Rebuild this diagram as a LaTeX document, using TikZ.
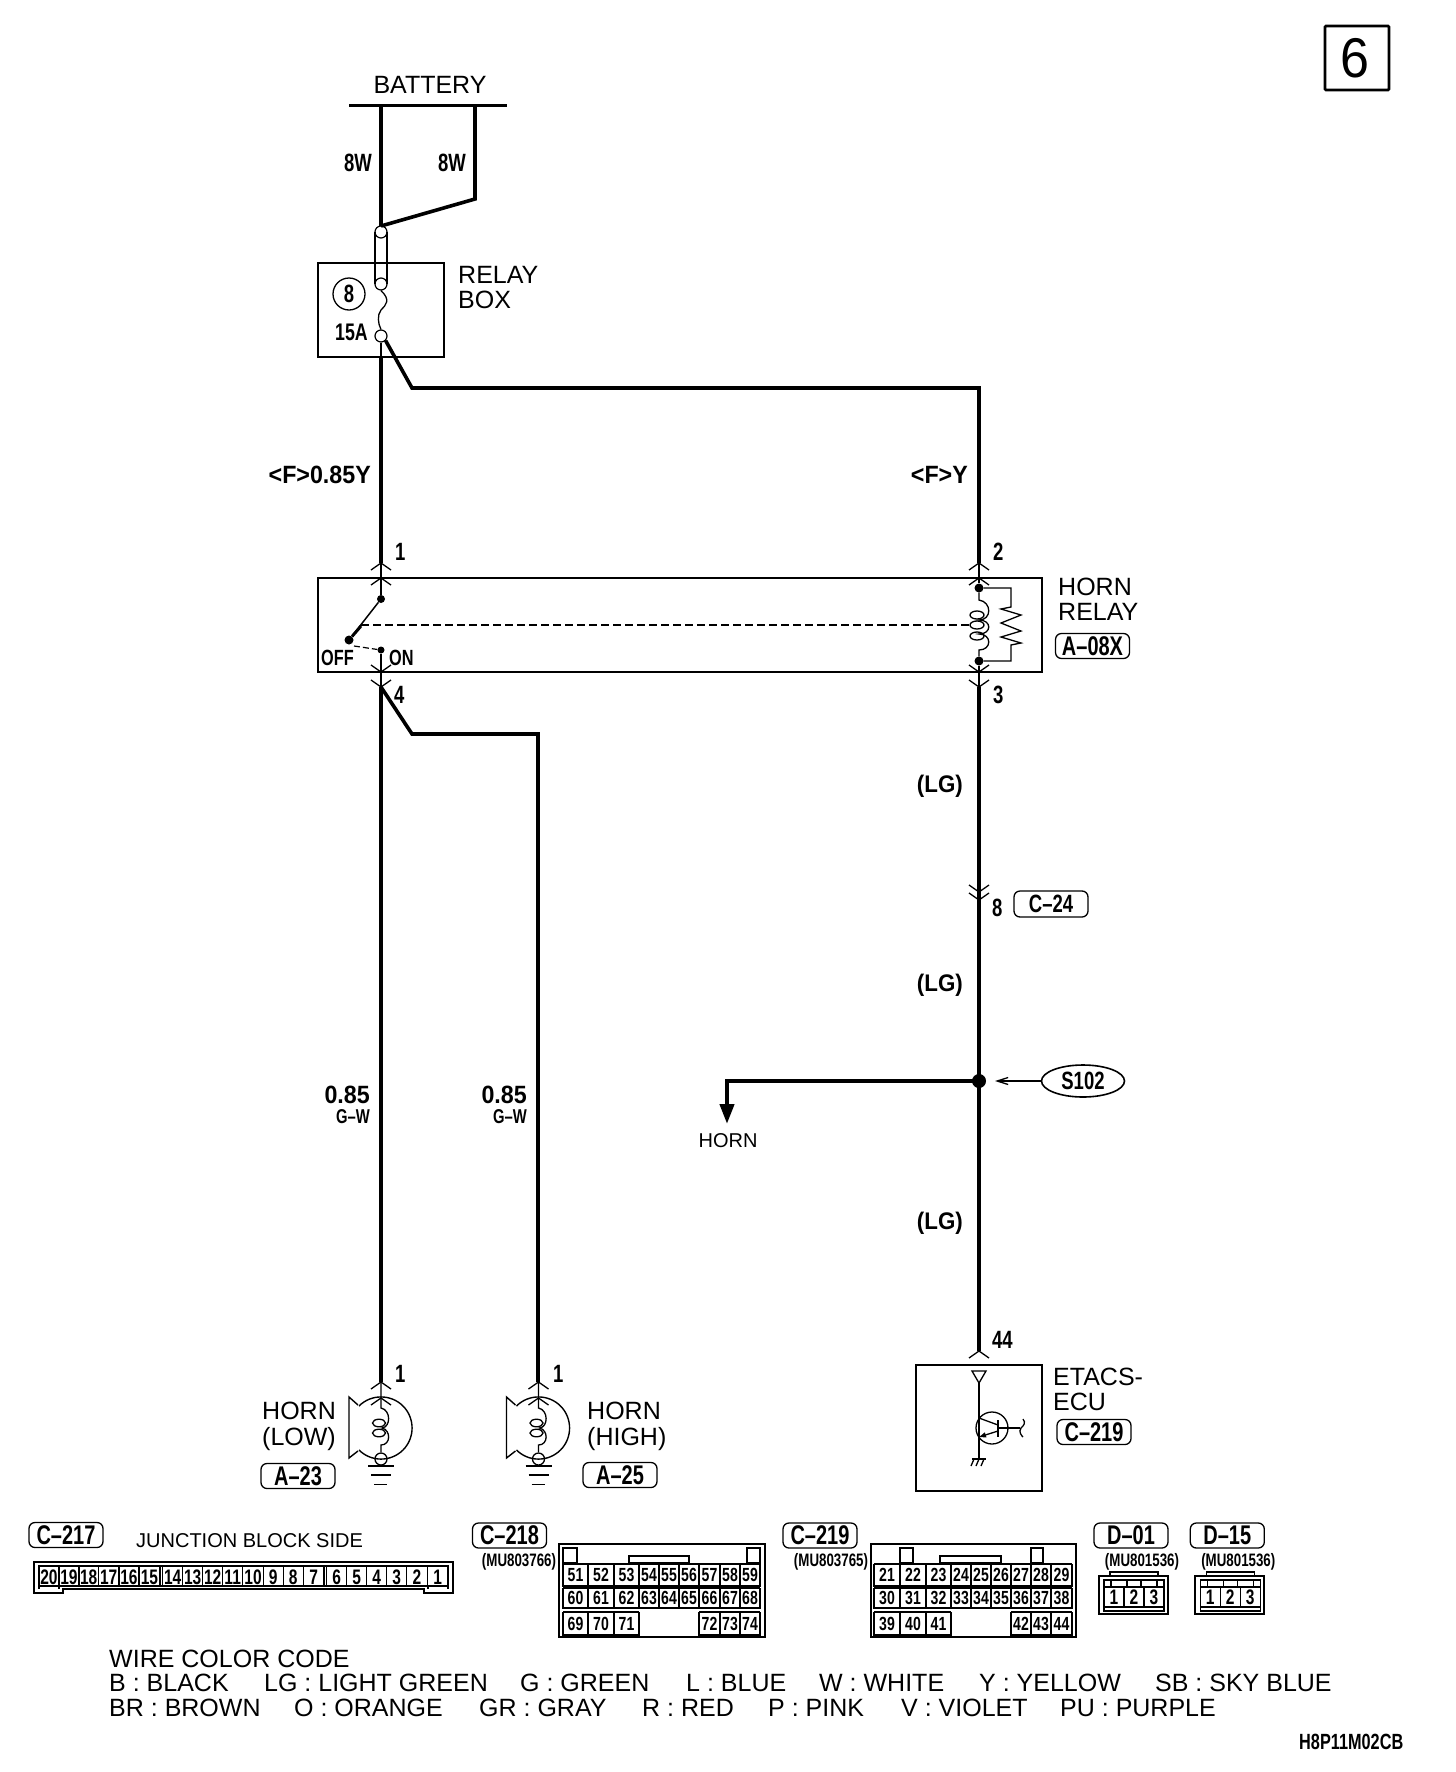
\documentclass[tikz,border=0pt]{standalone}
\usepackage{fontspec}
\setmainfont{Liberation Sans}
\newfontfamily\nar{Liberation Sans}[FakeStretch=0.74]
\newfontfamily\narw{Liberation Sans}[FakeStretch=0.93]
\usetikzlibrary{arrows.meta,shapes.geometric}
\newcommand\fs[1]{\fontsize{#1}{#1}\selectfont}
\newcommand\chU[2]{\draw[thin1] (#1-10,#2+7) -- (#1,#2) -- (#1+10,#2+7);}
\newcommand\chD[2]{\draw[thin1] (#1-10,#2-7) -- (#1,#2) -- (#1+10,#2-7);}
\newcommand\conncell[5]{% x0 x1 y0 y1 text
  \draw[cellb] (#1,#3) -- (#1,#4) -- (#2,#4) -- (#2,#3);
  \draw[cellt] (#1,#3) -- (#2,#3);
  \node[cellnum] at ({(#1+#2)/2},{(#3+#4)/2}) {#5};}
\tikzset{
  wire/.style={line width=4.2pt,line join=miter},
  wiret/.style={line width=3.6pt,line join=miter},
  thin1/.style={line width=1.3pt},
  box/.style={line width=1.8pt},
  dotn/.style={circle,fill=black,inner sep=0,minimum size=#1},
  tx/.style={inner sep=0,anchor=base west,font=\fs{25}},
  lab/.style={inner sep=0,anchor=base west,font=\nar\bfseries\fs{25}},
  labw/.style={inner sep=0,anchor=base east,font=\narw\bfseries\fs{25}},
  tag/.style={draw,rounded corners=6pt,line width=1.3pt,inner sep=0,minimum width=74pt,minimum height=25pt,font=\nar\bfseries\fs{27}},
  cellb/.style={line width=1.2pt},
  cellt/.style={line width=2.4pt},
  cellnum/.style={inner sep=0,font=\nar\bfseries\fs{19}},
  cnum/.style={inner sep=0,font=\nar\bfseries\fs{21}},
  partno/.style={inner sep=0,font=\nar\bfseries\fs{18}}
}
\begin{document}
\begin{tikzpicture}[x=1pt,y=-1pt]
\useasboundingbox (0,0) rectangle (1456,1772);
% page tag
\draw[line width=2.6pt,rounded corners=1pt] (1325,26) rectangle (1389,90);
\node[inner sep=0,font=\narw\fs{56}] (pg) at (1355,58) {6};
% battery
\node[tx,anchor=base] (bat) at (430,93) {BATTERY};
\coordinate (busL) at (349,105); \coordinate (busR) at (507,105);
\draw[line width=3pt] (busL) -- (busR);
\coordinate (w1) at (381,105); \coordinate (w2) at (475,105);
\coordinate (wj) at (381,226); \coordinate (w2b) at (475,199);
\draw[wire] (w1) -- (wj);
\draw[wiret] (w2) -- (w2b) -- (wj);
\node[lab] (l8a) at (344,171) {8W};
\node[lab] (l8b) at (438,171) {8W};
% relay box
\draw[box] (318,263) rectangle (444,357);
\node[tx] (rb1) at (458,283) {RELAY};
\node[tx] (rb2) at (458,308) {BOX};
\node[draw,circle,line width=1.3pt,minimum size=32pt,inner sep=0,font=\nar\bfseries\fs{25}] (f8) at (349,294) {8};
\node[lab,font=\nar\bfseries\fs{24}] (f15) at (335,340) {15A};
\node[draw,circle,line width=1.2pt,minimum size=12pt,inner sep=0] (fa) at (381,232) {};
\node[draw,circle,line width=1.2pt,minimum size=12pt,inner sep=0] (fb) at (381,284) {};
\node[draw,circle,line width=1.2pt,minimum size=12pt,inner sep=0] (fc) at (381,336) {};
\draw[thin1] (375,232) -- (375,284) (387,232) -- (387,284);
\draw[thin1] (fb.south) .. controls (391,300) and (386,305) .. (381,310) .. controls (377,315) and (378,324) .. (fc.north);
\coordinate (rbOut) at (381,357);
\coordinate (br1) at (412,388); \coordinate (br2) at (979,388);
\coordinate (rT1) at (381,563); \coordinate (rT2) at (979,563);
\draw[thin1] (fc.south) -- (rbOut);
\draw[wire] (rbOut) -- (rT1);
\draw[wiret] (fc.south east) -- (br1) -- (br2) -- (rT2);
\node[labw] (fw1) at (371,483) {<F>0.85Y};
\node[labw] (fw2) at (968,483) {<F>Y};
% horn relay
\draw[box] (318,578) rectangle (1042,672);
\node[lab] (p1) at (395,560) {1};
\node[lab] (p2) at (993,560) {2};
\node[lab] (p4) at (394,703) {4};
\node[lab] (p3) at (993,703) {3};
\chU{381}{563} \chU{381}{578} \chU{979}{563} \chU{979}{578}
\chD{381}{672} \chD{381}{687} \chD{979}{672} \chD{979}{687}
\node[dotn=8pt] (sa) at (381,599) {};
\node[dotn=9pt] (sb) at (349,640) {};
\node[dotn=7pt] (sc) at (381,650) {};
\draw[thin1] (rT1) -- (sa);
\draw[line width=1.5pt] (sa) -- (sb);
\draw[line width=3pt] (sb) -- (361,626);
\draw[line width=1.2pt,dash pattern=on 6pt off 3pt] (354,646) -- (sc);
\draw[thin1] (sc) -- (381,672) -- (381,687);
\node[inner sep=0,anchor=base west,font=\nar\bfseries\fs{22}] (off) at (321,665) {OFF};
\node[inner sep=0,anchor=base west,font=\nar\bfseries\fs{22}] (on) at (389,665) {ON};
\coordinate (dsh) at (361,625); \coordinate (dshe) at (970,625);
\draw[line width=1.4pt,dash pattern=on 8pt off 4pt] (dsh) -- (dshe);
% coil
\node[dotn=9pt] (ca) at (979,588) {};
\node[dotn=9pt] (cb) at (979,661) {};
\draw[thin1] (rT2) -- (ca);
\draw[thin1] (cb) -- (979,672) -- (979,687);
\draw[thin1] (ca) -- (979,600) .. controls (992,602) and (992,620) .. (979,620) .. controls (992,620) and (992,634) .. (979,634) .. controls (992,634) and (992,650) .. (979,650) -- (cb);
\foreach \yy in {615,625,636} \draw[thin1] (977,\yy) ellipse [x radius=7,y radius=4];
\draw[thin1] (ca) -- (1011,588) -- (1011,607) -- (1001,609) -- (1021,615) -- (1001,623) -- (1021,631) -- (1001,637) -- (1021,643) -- (1011,645) -- (1011,661) -- (cb);
\node[tx] (hr1) at (1058,595) {HORN};
\node[tx] (hr2) at (1058,620) {RELAY};
\node[tag] (a08) at (1092.5,646) {A–08X};
% lower wires
\coordinate (low4) at (381,687); \coordinate (hornL) at (381,1382);
\coordinate (b1) at (412,734); \coordinate (b2) at (538,734); \coordinate (hornH) at (538,1382);
\draw[wire] (low4) -- (hornL);
\draw[wiret] (low4) -- (b1) -- (b2) -- (hornH);
\node[labw] at (370,1103) (v1) {0.85};
\node[labw] at (527,1103) (v2) {0.85};
\node[inner sep=0,anchor=base east,font=\nar\bfseries\fs{20}] (g1) at (370,1123) {G–W};
\node[inner sep=0,anchor=base east,font=\nar\bfseries\fs{20}] (g2) at (527,1123) {G–W};
% right wire
\coordinate (r3) at (979,687); \coordinate (r44) at (979,1351);
\draw[wire] (r3) -- (r44);
\node[dotn=14pt] (spl) at (979,1081) {};
\chD{979}{892} \chD{979}{900}
\node[lab] (p8) at (992,916) {8};
\node[tag,font=\nar\bfseries\fs{25},minimum height=26pt] (c24) at (1051,904) {C–24};
\foreach \yy/\nn in {792/la,991/lb,1229/lc} \node[inner sep=0,anchor=base east,font=\narw\bfseries\fs{24}] (\nn) at (963,\yy) {(LG)};
\coordinate (hrn1) at (727,1081); \coordinate (hrn2) at (727,1124);
\draw[wire,-{Triangle[length=20pt,width=14pt]}] (spl.center) -- (hrn1) -- (hrn2);
\node[tx,anchor=base,font=\fs{20}] (hrnt) at (728,1147) {HORN};
\node[draw,ellipse,line width=1.6pt,minimum width=83pt,minimum height=32pt,inner sep=0,font=\nar\bfseries\fs{25}] (s102) at (1083,1081) {S102};
\coordinate (s102t) at (995,1081);
\draw[thin1,-{Straight Barb[length=11pt,width=7pt]}] (s102) -- (s102t);
% horns
\foreach \dx/\nm in {0/a,157.5/b}{
\begin{scope}[xshift=\dx pt]
\chU{381}{1382} \chU{381}{1398}
\node[draw,circle,line width=1.3pt,minimum size=12pt,inner sep=0] (hg\nm) at (381,1459) {};
\draw[line width=1.4pt] (358,1405) -- (349,1397) -- (349,1458) -- (358,1451);
\draw[line width=1.4pt] (359,1406) .. controls (371.1,1393.9) and (390.9,1393.9) .. (403,1406) .. controls (415.1,1418.1) and (415.1,1437.9) .. (403,1450) .. controls (390.9,1462.1) and (371.1,1462.1) .. (359,1450);
\draw[thin1] (381,1382) -- (381,1408) .. controls (391,1410) and (391,1427) .. (382,1428) .. controls (391,1430) and (391,1445) .. (381,1445) -- (hg\nm.north);
\foreach \yy in {1423,1433} \draw[thin1] (379,\yy) ellipse [x radius=6.5,y radius=3.8];
\draw[line width=2.2pt] (368,1466) -- (394,1466);
\draw[line width=1.6pt] (371,1475) -- (391,1475);
\draw[line width=1pt] (374,1484) -- (387,1484);
\end{scope}}
\node[lab] (h1a) at (395,1382) {1};
\node[lab] (h1b) at (553,1382) {1};
\node[tx] (hl1) at (262,1419) {HORN};
\node[tx] (hl2) at (262,1445) {(LOW)};
\node[tx] (hh1) at (587,1419) {HORN};
\node[tx] (hh2) at (587,1445) {(HIGH)};
\node[tag] (a23) at (298,1476) {A–23};
\node[tag] (a25) at (620,1475) {A–25};
% ETACS
\draw[box] (916,1365) rectangle (1042,1491);
\chU{979}{1351}
\node[lab] (p44) at (992,1348) {44};
\draw[thin1] (972,1371) -- (986,1371) -- (979,1383) -- cycle;
\draw[line width=1.5pt] (979,1383) -- (979,1458);
\draw[line width=1.3pt] (992,1428) circle [radius=16];
\draw[line width=1.5pt] (998,1420) -- (998,1437);
\draw[thin1] (998,1428) -- (1020,1428);
\draw[thin1] (1023,1419) .. controls (1026,1423) and (1024,1425) .. (1021,1428) .. controls (1018,1432) and (1022,1436) .. (1023,1437);
\draw[thin1] (979,1418) -- (998,1425);
\draw[thin1,-{Triangle[length=7pt,width=5pt]}] (998,1431) -- (979,1437);
\draw[line width=1.6pt] (972,1459) -- (986,1459);
\foreach \xx in {974,979,984} \draw[thin1] (\xx,1459) -- (\xx-3,1466);
\node[tx] (et1) at (1053,1385) {ETACS-};
\node[tx] (et2) at (1053,1410) {ECU};
\node[tag] (c219) at (1094,1432) {C–219};
% C-217
\node[tag] (c217) at (66,1535) {C–217};
\node[tx,font=\fs{20}] (jbs) at (136,1547) {JUNCTION BLOCK SIDE};
\draw[line width=2pt] (34,1562) -- (453,1562) -- (453,1593) -- (424,1593) -- (424,1589) -- (63,1589) -- (63,1593) -- (34,1593) -- cycle;
\draw[line width=1.2pt] (39,1566) rectangle (448,1586);
\foreach \a/\b/\n in {39/59/20,59/79/19,79/98.3/18,98.3/119/17,119/139/16,139/160/15,162.7/182.7/14,182.7/202.7/13,202.7/222.7/12,222.7/242.7/11,242.7/263.3/10,263.3/283.3/9,283.3/303.3/8,303.3/324/7,326.7/346.7/6,346.7/366.7/5,366.7/386.7/4,386.7/406.7/3,406.7/427.3/2,427.3/448/1}{
  \draw[line width=1.2pt] (\a,1566) rectangle (\b,1586);
  \node[cnum] at ({(\a+\b)/2},1577) {\n};
}
\draw[line width=1.2pt] (39,1586) -- (39,1589) (59,1586) -- (59,1589) (428,1586) -- (428,1589) (448,1586) -- (448,1589);
% C-218
\node[tag] (c218) at (509.5,1535.5) {C–218};
\node[partno] (mu1) at (519,1561.5) {(MU803766)};
\draw[line width=2.2pt] (559,1544) rectangle (765,1637);
\draw[line width=1.3pt] (563,1563) rectangle (577,1548);
\draw[line width=1.3pt] (747,1563) rectangle (760,1548);
\draw[line width=1.3pt] (629,1563) rectangle (689,1556);
\foreach \a/\b/\n/\m/\k in {563/588/51/60/69,588/614/52/61/70,614/639/53/62/71,639/659/54/63/,659/679/55/64/,679/699/56/65/,699/720/57/66/72,720/740/58/67/73,740/760/59/68/74}{
  \conncell{\a}{\b}{1564}{1586}{\n}
  \conncell{\a}{\b}{1588}{1608}{\m}
  \ifx\k\empty\else\conncell{\a}{\b}{1612}{1635}{\k}\fi
}
% C-219
\node[tag] (c219b) at (820,1535.5) {C–219};
\node[partno] (mu2) at (831,1561.5) {(MU803765)};
\draw[line width=2.2pt] (871,1544) rectangle (1076,1637);
\draw[line width=1.3pt] (900,1563) rectangle (913,1548);
\draw[line width=1.3pt] (1031,1563) rectangle (1043,1548);
\draw[line width=1.3pt] (940,1563) rectangle (1001,1556);
\foreach \a/\b/\n/\m/\k in {874/900/21/30/39,900/926/22/31/40,926/951/23/32/41,951/971/24/33/,971/991/25/34/,991/1011/26/35/,1011/1031/27/36/42,1031/1051/28/37/43,1051/1072/29/38/44}{
  \conncell{\a}{\b}{1564}{1586}{\n}
  \conncell{\a}{\b}{1588}{1608}{\m}
  \ifx\k\empty\else\conncell{\a}{\b}{1612}{1635}{\k}\fi
}
% D-01 / D-15
\foreach \dx/\tg/\nm in {0/D–01/da,96.3/D–15/db}{
\begin{scope}[xshift=\dx pt]
\node[tag] (\nm t) at (1131,1535.5) {\tg};
\node[partno] (\nm p) at (1142,1561.5) {(MU801536)};
\draw[line width=1.2pt] (1110,1576) -- (1110,1572) -- (1158,1572) -- (1158,1576);
\draw[line width=2.2pt] (1099,1576) rectangle (1168,1614);
\draw[line width=1.2pt] (1104,1580) -- (1104,1611) -- (1164,1611) -- (1164,1580) -- cycle;
\draw[line width=1.2pt] (1104,1587) rectangle (1111,1580);
\draw[line width=1.2pt] (1157,1587) rectangle (1164,1580);
\draw[line width=1.2pt] (1127,1587) -- (1127,1580) -- (1141,1580) -- (1141,1587);
\draw[line width=1.2pt] (1104,1587) -- (1164,1587) (1104,1607) -- (1164,1607) (1124,1587) -- (1124,1607) (1144,1587) -- (1144,1607);
\node[cnum] at (1114,1597) {1};
\node[cnum] at (1134,1597) {2};
\node[cnum] at (1154,1597) {3};
\end{scope}}
% legend
\begin{scope}[every node/.style={tx}]
\node (k0) at (109,1667) {WIRE COLOR CODE};
\node (k1) at (109,1691) {B : BLACK};
\node (k2) at (264,1691) {LG : LIGHT GREEN};
\node (k3) at (520,1691) {G : GREEN};
\node (k4) at (686,1691) {L : BLUE};
\node (k5) at (819,1691) {W : WHITE};
\node (k6) at (979,1691) {Y : YELLOW};
\node (k7) at (1155,1691) {SB : SKY BLUE};
\node (m1) at (109,1716) {BR : BROWN};
\node (m2) at (294,1716) {O : ORANGE};
\node (m3) at (479,1716) {GR : GRAY};
\node (m4) at (642,1716) {R : RED};
\node (m5) at (768,1716) {P : PINK};
\node (m6) at (901,1716) {V : VIOLET};
\node (m7) at (1060,1716) {PU : PURPLE};
\end{scope}
\node[lab,font=\nar\bfseries\fs{22}] (code) at (1299,1749) {H8P11M02CB};
\end{tikzpicture}
\end{document}
